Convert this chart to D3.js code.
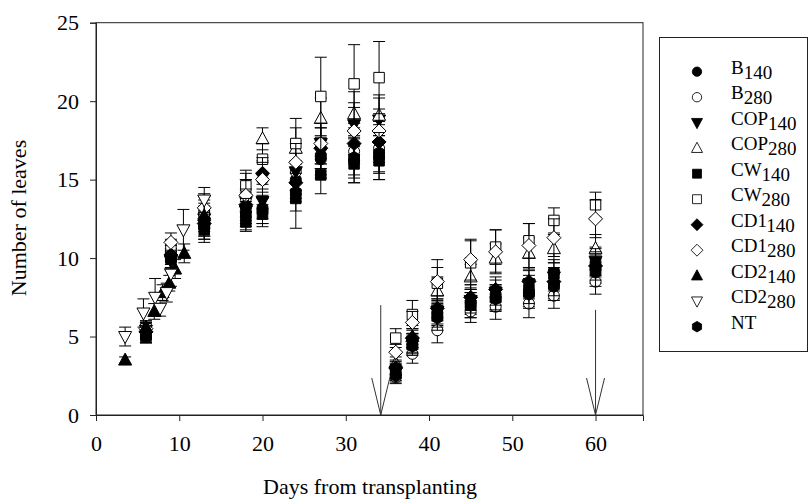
<!DOCTYPE html>
<html>
<head>
    <style>
        body {
            margin: 0;
            background: white;
            font-family: "Liberation Serif", "Times New Roman", serif;
        }
        .axis-label {
            font-size: 22px;
            fill: #000;
        }
        .legend-text {
            font-size: 19px;
            fill: #000;
        }
    </style>
</head>
<body>
    <div id="chart"></div>
    <script src="https://cdnjs.cloudflare.com/ajax/libs/d3/7.8.5/d3.min.js"></script>
    <script>
        // measurement days
        const days = [6, 9, 13, 18, 20, 24, 27, 31, 34, 36, 38, 41, 45, 48, 52, 55, 60];
        const daysCD2 = [3.5, 5.7, 7.1, 7.7, 8.5, 9, 10.5, 13];
        const daysCD2b = [3.5, 6, 7, 8, 8.8, 9.5, 10.6, 13];

        // mean number of leaves per treatment
        const B140   = [5.0, 10.0, 12.0, 13.2, 13.2, 15.0, 16.3, 16.2, 16.4, 2.6, 4.8, 6.5, 7.2, 7.5, 7.8, 8.3, 9.3];
        const B280   = [5.2, 10.2, 12.3, 13.8, 15.0, 15.5, 17.0, 16.8, 17.0, 2.4, 3.9, 5.4, 6.6, 6.9, 7.1, 7.6, 8.5];
        const COP140 = [5.4, 9.8, 12.5, 13.0, 13.6, 15.5, 17.3, 18.5, 18.8, 2.8, 4.6, 6.6, 7.3, 7.8, 8.3, 8.8, 9.8];
        const COP280 = [5.6, 10.5, 12.8, 14.2, 17.6, 17.0, 18.9, 19.2, 19.1, 3.3, 5.0, 7.9, 8.8, 10.0, 10.3, 10.6, 10.6];
        const CW140  = [5.0, 10.0, 11.8, 12.3, 12.8, 13.8, 15.3, 16.0, 16.2, 2.9, 4.5, 6.4, 7.0, 7.5, 8.0, 9.0, 9.7];
        const CW280  = [5.5, 10.6, 13.0, 14.6, 16.3, 17.3, 20.3, 21.1, 21.5, 4.9, 6.4, 8.4, 9.7, 10.7, 11.1, 12.4, 13.4];
        const CD1140 = [5.3, 10.2, 12.2, 13.4, 15.4, 14.8, 17.0, 17.3, 17.4, 3.0, 4.9, 6.8, 7.5, 8.0, 8.5, 8.5, 9.5];
        const CD1280 = [5.5, 11.0, 13.2, 14.0, 15.0, 16.1, 17.3, 18.1, 18.1, 4.0, 5.9, 8.5, 9.9, 10.4, 10.8, 11.3, 12.5];
        const NT     = [5.0, 9.9, 12.0, 12.8, 13.0, 14.2, 16.5, 16.4, 16.7, 2.5, 4.4, 6.2, 7.0, 7.4, 7.7, 8.2, 9.1];
        const CD2140 = [3.5, 5.6, 6.6, 7.8, 8.4, 9.3, 10.3, 12.7];
        const CD2280 = [5.0, 6.5, 7.5, 6.8, 7.8, 9.0, 11.8, 13.7];

        // standard errors
        const errB140   = [0.4, 0.6, 0.8, 1.0, 1.0, 1.2, 1.2, 1.4, 1.4, 0.4, 0.6, 0.8, 0.8, 0.8, 0.9, 0.9, 0.9];
        const errB280   = [0.4, 0.6, 0.9, 1.2, 1.2, 1.2, 1.3, 1.5, 1.5, 0.4, 0.6, 0.8, 0.7, 0.8, 0.9, 0.8, 0.8];
        const errCOP140 = [0.4, 0.6, 0.8, 1.0, 1.1, 1.2, 1.3, 1.4, 1.4, 0.4, 0.6, 0.8, 0.8, 0.8, 0.9, 0.9, 0.9];
        const errCOP280 = [0.4, 0.6, 0.9, 1.2, 0.7, 1.3, 1.3, 1.4, 1.3, 0.4, 0.7, 0.9, 0.8, 0.9, 1.0, 0.9, 0.9];
        const errCW140  = [0.4, 0.6, 0.8, 0.6, 0.6, 1.9, 1.2, 1.2, 1.2, 0.4, 0.6, 0.8, 0.8, 0.8, 0.9, 0.9, 0.9];
        const errCW280  = [0.4, 0.6, 0.9, 1.0, 1.0, 1.6, 2.5, 2.5, 2.3, 0.6, 0.9, 1.0, 1.4, 1.1, 1.1, 0.8, 0.8];
        const errCD1140 = [0.4, 0.6, 0.8, 1.0, 1.0, 1.2, 1.3, 1.3, 1.3, 0.4, 0.6, 0.8, 0.8, 0.8, 0.9, 0.9, 0.9];
        const errCD1280 = [0.4, 0.6, 0.9, 1.0, 1.1, 1.2, 1.3, 1.5, 1.4, 0.5, 0.7, 1.4, 1.3, 1.4, 1.4, 1.2, 1.2];
        const errNT     = [0.4, 0.6, 0.8, 1.0, 1.0, 1.2, 1.2, 1.3, 1.3, 0.4, 0.6, 0.8, 0.8, 0.8, 0.9, 0.9, 0.9];
        const errCD2140 = [0.2, 0.4, 0.5, 0.5, 0.5, 0.6, 0.6, 0.8];
        const errCD2280 = [0.6, 0.9, 1.2, 0.5, 0.6, 0.8, 1.3, 0.8];

        // arrows marking harvest (day, top value)
        const arrowDays = [34.2, 60];
        const arrowTops = [7.0, 6.7];

        const xTicks = [0, 10, 20, 30, 40, 50, 60];
        const yTicks = [0, 5, 10, 15, 20, 25];

        const series = [
            { name: "B", sub: "140", shape: "circle", fill: true, days: days, values: B140, err: errB140 },
            { name: "B", sub: "280", shape: "circle", fill: false, days: days, values: B280, err: errB280 },
            { name: "COP", sub: "140", shape: "tridown", fill: true, days: days, values: COP140, err: errCOP140 },
            { name: "COP", sub: "280", shape: "triup", fill: false, days: days, values: COP280, err: errCOP280 },
            { name: "CW", sub: "140", shape: "square", fill: true, days: days, values: CW140, err: errCW140 },
            { name: "CW", sub: "280", shape: "square", fill: false, days: days, values: CW280, err: errCW280 },
            { name: "CD1", sub: "140", shape: "diamond", fill: true, days: days, values: CD1140, err: errCD1140 },
            { name: "CD1", sub: "280", shape: "diamond", fill: false, days: days, values: CD1280, err: errCD1280 },
            { name: "CD2", sub: "140", shape: "triup", fill: true, days: daysCD2b, values: CD2140, err: errCD2140 },
            { name: "CD2", sub: "280", shape: "tridown", fill: false, days: daysCD2, values: CD2280, err: errCD2280 },
            { name: "NT", sub: "", shape: "hexagon", fill: true, days: days, values: NT, err: errNT }
        ];

        const W = 811, H = 502;
        const svg = d3.select("#chart")
            .append("svg")
            .attr("width", W)
            .attr("height", H);

        const x = d3.scaleLinear().domain([0, 65.7]).range([96, 643]);
        const y = d3.scaleLinear().domain([0, 25]).range([415, 22.7]);

        // marker path generators
        function markerPath(shape) {
            switch (shape) {
                case "circle": return d3.symbol(d3.symbolCircle, 95)();
                case "square": return d3.symbol(d3.symbolSquare, 110)();
                case "diamond": return "M0,-7L7,0L0,7L-7,0Z";
                case "triup": return "M0,-7L6.5,5L-6.5,5Z";
                case "tridown": return "M0,7L6.5,-5L-6.5,-5Z";
                case "hexagon": {
                    const pts = d3.range(6).map(i => {
                        const a = Math.PI / 3 * i + Math.PI / 6;
                        return [6.2 * Math.cos(a), 6.2 * Math.sin(a)];
                    });
                    return "M" + pts.join("L") + "Z";
                }
            }
        }

        // frame
        svg.append("rect")
            .attr("x", x(0)).attr("y", y(25))
            .attr("width", x(65.7) - x(0))
            .attr("height", y(0) - y(25))
            .attr("fill", "none")
            .attr("stroke", "#222")
            .attr("stroke-width", 1);

        // axes
        const xAxis = svg.append("g")
            .attr("transform", `translate(0,${y(0)})`)
            .call(d3.axisBottom(x).tickValues(xTicks).tickSize(6).tickPadding(14).tickFormat(d3.format("d")));
        const yAxis = svg.append("g")
            .attr("transform", `translate(${x(0)},0)`)
            .call(d3.axisLeft(y).tickValues(yTicks).tickSize(6).tickPadding(11).tickFormat(d3.format("d")));
        [xAxis, yAxis].forEach(g => {
            g.attr("font-family", "Liberation Serif, serif").attr("font-size", 22);
            g.select(".domain").attr("stroke", "#222");
            g.selectAll(".tick line").attr("stroke", "#222");
            g.selectAll(".tick text").attr("fill", "#000");
        });

        // data
        series.forEach(s => {
            const pts = s.days.map((d, i) => ({ d: d, v: s.values[i], e: s.err[i] }));
            const g = svg.append("g");
            const eb = g.selectAll(".eb").data(pts).enter().append("g");
            eb.append("line")
                .attr("x1", p => x(p.d)).attr("x2", p => x(p.d))
                .attr("y1", p => y(p.v - p.e)).attr("y2", p => y(p.v + p.e))
                .attr("stroke", "#000").attr("stroke-width", 1);
            [1, -1].forEach(sign => {
                eb.append("line")
                    .attr("x1", p => x(p.d) - 6).attr("x2", p => x(p.d) + 6)
                    .attr("y1", p => y(p.v + sign * p.e)).attr("y2", p => y(p.v + sign * p.e))
                    .attr("stroke", "#000").attr("stroke-width", 1);
            });
            g.selectAll(".pt").data(pts).enter().append("path")
                .attr("d", markerPath(s.shape))
                .attr("transform", p => `translate(${x(p.d)},${y(p.v)})`)
                .attr("fill", s.fill ? "#000" : "#fff")
                .attr("stroke", "#000")
                .attr("stroke-width", 1);
        });

        // arrows
        arrowDays.forEach((d, i) => {
            const ax = x(d);
            svg.append("line")
                .attr("x1", ax).attr("x2", ax)
                .attr("y1", y(arrowTops[i])).attr("y2", y(0))
                .attr("stroke", "#333").attr("stroke-width", 1);
            svg.append("path")
                .attr("d", `M${ax - 9},${y(0) - 37}L${ax},${y(0)}L${ax + 9},${y(0) - 37}`)
                .attr("fill", "none")
                .attr("stroke", "#333").attr("stroke-width", 1);
        });

        // axis titles
        svg.append("text")
            .attr("class", "axis-label")
            .attr("x", 370).attr("y", 494)
            .attr("text-anchor", "middle")
            .text("Days from transplanting");
        svg.append("text")
            .attr("class", "axis-label")
            .attr("transform", "rotate(-90)")
            .attr("x", -218).attr("y", 26)
            .attr("text-anchor", "middle")
            .text("Number of leaves");

        // legend
        const lg = svg.append("g");
        lg.append("rect")
            .attr("x", 659.5).attr("y", 37.5)
            .attr("width", 148).attr("height", 314)
            .attr("fill", "#fff")
            .attr("stroke", "#222");
        series.forEach((s, i) => {
            const ly = 71.7 + i * 25.5;
            lg.append("path")
                .attr("d", markerPath(s.shape))
                .attr("transform", `translate(697,${ly}) scale(0.85)`)
                .attr("fill", s.fill ? "#000" : "#fff")
                .attr("stroke", "#000");
            const t = lg.append("text")
                .attr("class", "legend-text")
                .attr("x", 731).attr("y", ly + 2);
            t.append("tspan").text(s.name);
            if (s.sub) {
                t.append("tspan").attr("dy", 5).text(s.sub);
            }
        });
    </script>
</body>
</html>
